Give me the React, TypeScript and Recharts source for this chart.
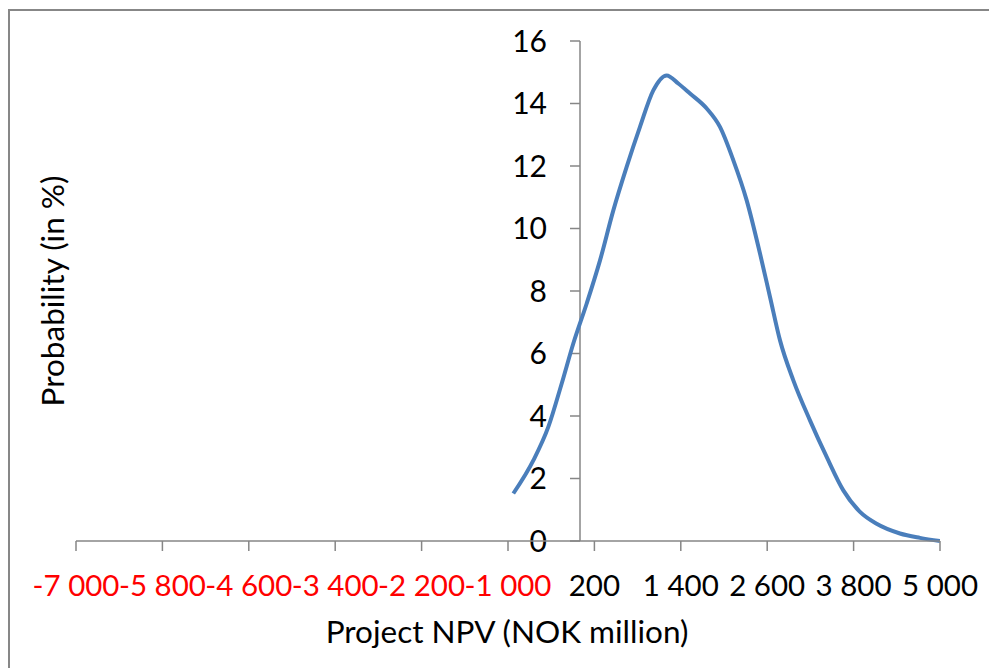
import React from 'react';
import { LineChart, Line, XAxis, YAxis, ReferenceLine, Label } from 'recharts';

// ---- data ----
const npvValues = [
  -926, -648, -440, -254, -93, 93, 278, 463, 648, 833, 1018, 1204, 1365, 1528, 1760,
  1944, 2130, 2315, 2500, 2639, 2778, 2963, 3194, 3426, 3657, 3889, 4120, 4444, 4722, 5000,
];
const probabilityValues = [
  1.52, 2.58, 3.65, 5.04, 6.32, 7.6, 8.98, 10.58, 11.97, 13.25, 14.42, 14.9, 14.64, 14.32, 13.84,
  13.25, 12.18, 10.9, 9.2, 7.81, 6.42, 5.14, 3.86, 2.69, 1.62, 0.93, 0.55, 0.24, 0.1, 0,
];
const xTicks = [-7000, -5800, -4600, -3400, -2200, -1000, 200, 1400, 2600, 3800, 5000];
const yTicks = [0, 2, 4, 6, 8, 10, 12, 14, 16];
const xTitle = 'Project NPV (NOK million)';
const yTitle = 'Probability (in %)';

const data = npvValues.map((x, i) => ({ npv: x, prob: probabilityValues[i] }));

const FONT = 'Lato, "Open Sans", sans-serif';
const AXIS = '#868686';

const fmt = (v: number) => {
  const s = Math.abs(v).toString().replace(/\B(?=(\d{3})+(?!\d))/g, ' ');
  return (v < 0 ? '-' : '') + s;
};

const XTick = (props: any) => {
  const { x, y, payload } = props;
  const v = payload.value;
  return (
    <text
      x={x}
      y={y + 43}
      textAnchor="middle"
      fontFamily={FONT}
      fontSize={29.5}
      fill={v < 0 ? '#FF0000' : '#000000'}
    >
      {fmt(v)}
    </text>
  );
};

const YAxisShape = (p: any) => {
  const x = p.x1;
  const yBottom = Math.max(p.y1, p.y2);
  const yTop = Math.min(p.y1, p.y2);
  const yMax = yTicks[yTicks.length - 1];
  return (
    <g>
      <line x1={x} y1={yTop} x2={x} y2={yBottom} stroke={AXIS} strokeWidth={1.5} />
      {yTicks.map((v) => {
        const py = yBottom - ((yBottom - yTop) * v) / yMax;
        return (
          <g key={v}>
            <line x1={x - 10} x2={x} y1={py} y2={py} stroke={AXIS} strokeWidth={1.5} />
            <text
              x={x - 33}
              y={py}
              dy="0.36em"
              textAnchor="end"
              fontFamily={FONT}
              fontSize={30}
              fill="#000"
            >
              {v}
            </text>
          </g>
        );
      })}
    </g>
  );
};

export default function App() {
  return (
    <>
      <div
        style={{
          position: 'absolute',
          left: 8,
          top: 9,
          width: 981,
          height: 659,
          boxSizing: 'border-box',
          borderTop: '2px solid #878787',
          borderLeft: '2px solid #878787',
        }}
      />
      <div style={{ position: 'absolute', left: 0, top: 0 }}>
        <LineChart
          width={989}
          height={668}
          data={data}
          margin={{ top: 41, right: 49, bottom: 0, left: 0 }}
        >
          <XAxis
            dataKey="npv"
            type="number"
            domain={[-7000, 5000]}
            ticks={xTicks}
            interval={0}
            allowDataOverflow
            height={127}
            stroke={AXIS}
            axisLine={{ stroke: AXIS, strokeWidth: 1.5 }}
            tickLine={{ stroke: AXIS, strokeWidth: 1.5 }}
            tickSize={10}
            tick={<XTick />}
          >
            <Label
              position="insideBottom"
              content={(lp: any) => {
                const vb = lp.viewBox;
                return (
                  <text
                    x={vb.x + vb.width / 2 - 1}
                    y={vb.y + vb.height - 25}
                    textAnchor="middle"
                    fontFamily={FONT}
                    fontSize={31.5}
                    fill="#000"
                  >
                    {xTitle}
                  </text>
                );
              }}
            />
          </XAxis>
          <YAxis
            type="number"
            domain={[0, 16]}
            ticks={yTicks}
            width={76}
            axisLine={false}
            tickLine={false}
            tick={false}
          >
            <Label
              position="insideLeft"
              content={(lp: any) => {
                const vb = lp.viewBox;
                const cx = vb.x + 64;
                const cy = vb.y + vb.height / 2;
                return (
                  <text
                    x={cx}
                    y={cy}
                    transform={`rotate(-90, ${cx}, ${cy})`}
                    textAnchor="middle"
                    fontFamily={FONT}
                    fontSize={31.5}
                    fill="#000"
                  >
                    {yTitle}
                  </text>
                );
              }}
            />
          </YAxis>
          <ReferenceLine x={0} stroke={AXIS} shape={<YAxisShape />} />
          <Line
            type="monotone"
            dataKey="prob"
            stroke="#4A7EBB"
            strokeWidth={4}
            dot={false}
            isAnimationActive={false}
          />
        </LineChart>
      </div>
    </>
  );
}
